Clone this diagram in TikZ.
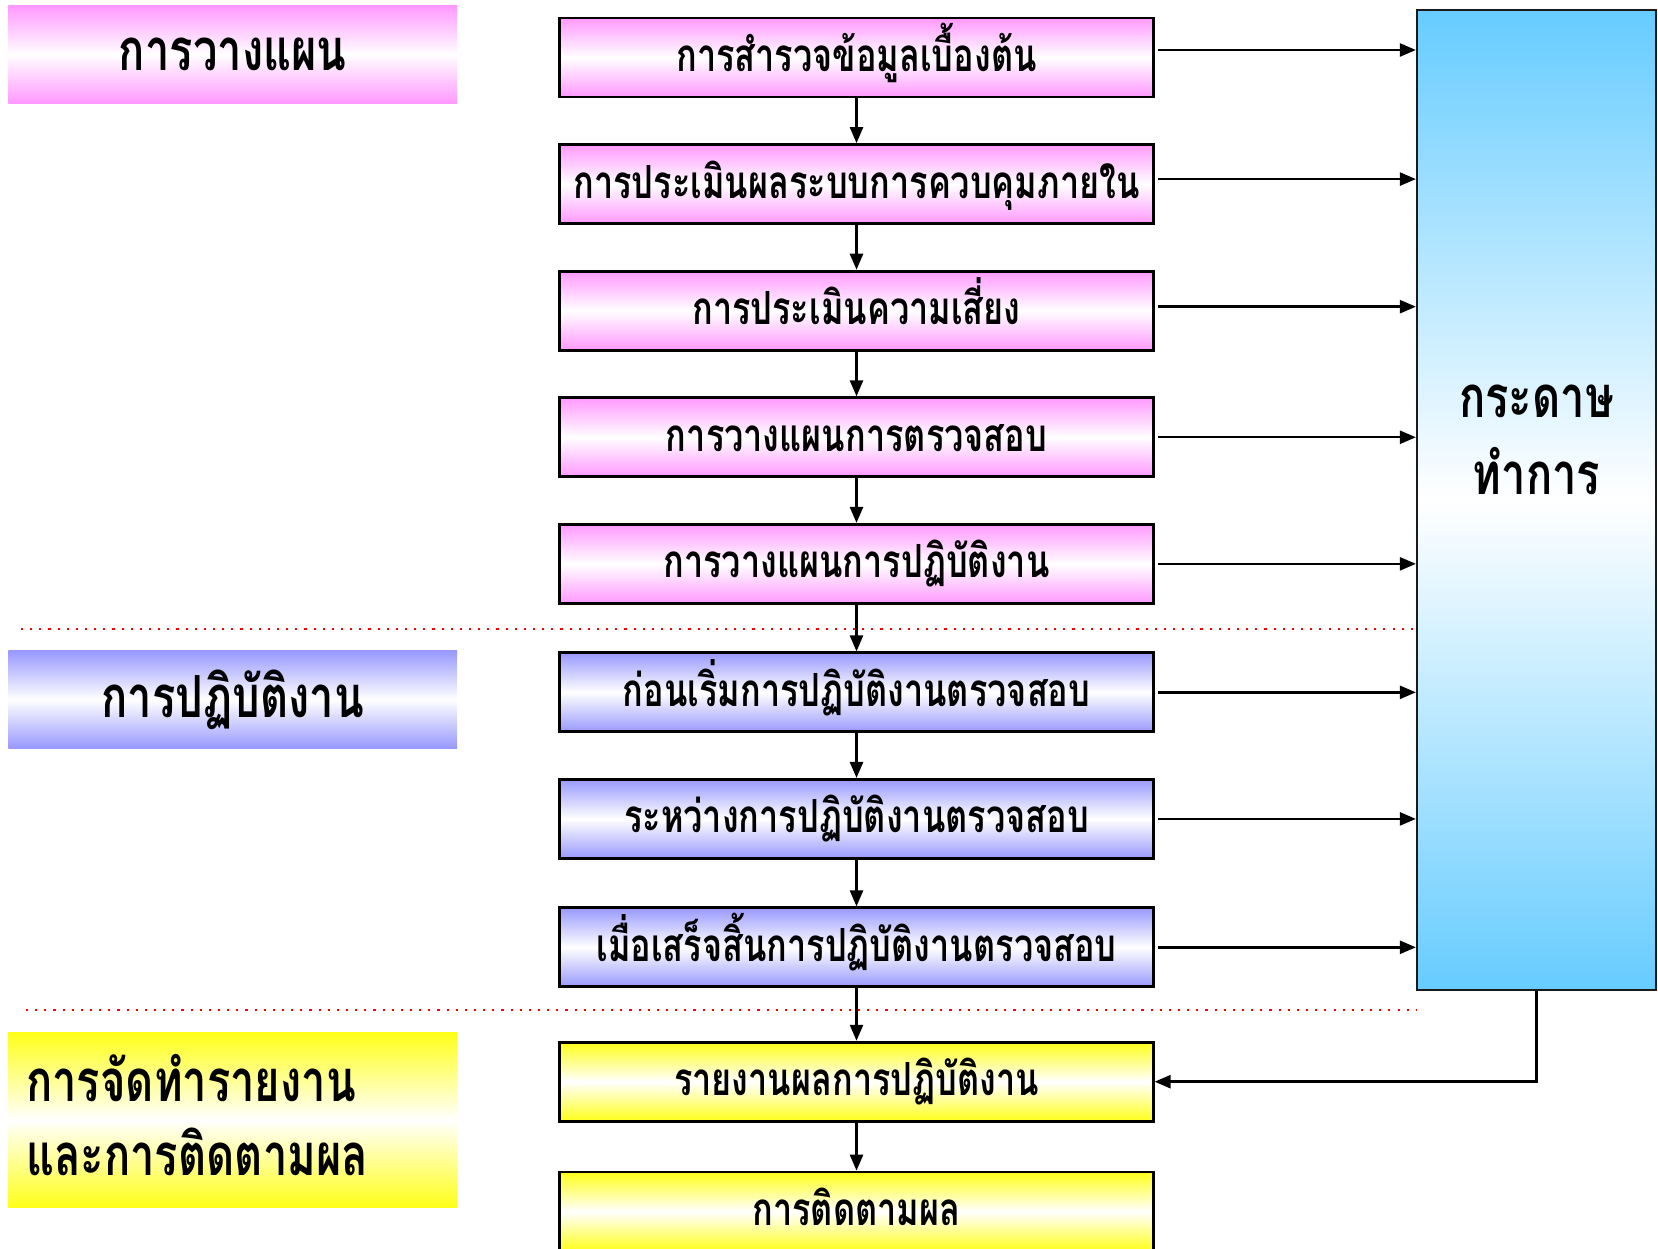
\documentclass[tikz,border=0pt]{standalone}
\usepackage{fontspec}
\newfontfamily\thaifont[Script=Thai,FakeStretch=0.75]{Loma}
\usetikzlibrary{arrows.meta,positioning}
\definecolor{pinkfill}{HTML}{FF99FF}
\definecolor{bluefill}{HTML}{9999FF}
\definecolor{yellowfill}{HTML}{FFFF1A}
\definecolor{skyfill}{HTML}{66CCFF}
\definecolor{frame}{HTML}{1A1A1A}
\tikzset{
  stage/.style={draw=black, line width=0.8pt, minimum width=59.3mm, minimum height=7.9mm, inner sep=0pt, text height=4mm, text depth=1.2mm, font=\thaifont\bfseries\fontsize{13}{15}\selectfont},
  planstep/.style={stage, top color=pinkfill, bottom color=pinkfill, middle color=white},
  workstep/.style={stage, top color=bluefill, bottom color=bluefill, middle color=white},
  reportstep/.style={stage, top color=yellowfill, bottom color=yellowfill, middle color=white},
  phase/.style={minimum width=44.85mm, minimum height=9.7mm, inner sep=0pt, font=\thaifont\bfseries\fontsize{16.5}{21.3}\selectfont},
  arrow/.style={-{Triangle[length=1.6mm, width=1.3mm]}, line width=0.7pt},
  divider/.style={red, dotted, line width=0.6pt}
}
\begin{document}
\begin{tikzpicture}[x=0.01cm, y=-0.01cm, node distance=4.47mm]
\useasboundingbox (0,0) rectangle (1658,1248);
% ช่วงการวางแผน
\node[phase, top color=pinkfill, bottom color=pinkfill, middle color=white] (planphase) at (232.75,54.5) {การวางแผน};
\node[phase, top color=bluefill, bottom color=bluefill, middle color=white] (workphase) at (232.75,699.5) {การปฏิบัติงาน};
\node[phase, minimum height=17.4mm, text width=41.3mm, align=left, top color=yellowfill, bottom color=yellowfill, middle color=white] (reportphase) at (232.75,1120) {การจัดทำรายงาน\\และการติดตามผล\vspace*{1mm}};
% ขั้นตอนหลัก
\node[planstep] (survey) at (856.5,57.5) {การสำรวจข้อมูลเบื้องต้น};
\node[planstep, below=of survey] (control) {การประเมินผลระบบการควบคุมภายใน};
\node[planstep, below=of control] (risk) {การประเมินความเสี่ยง};
\node[planstep, below=of risk] (auditplan) {การวางแผนการตรวจสอบ};
\node[planstep, below=of auditplan] (workplan) {การวางแผนการปฏิบัติงาน};
\node[workstep, below=4.66mm of workplan] (prework) {ก่อนเริ่มการปฏิบัติงานตรวจสอบ};
\node[workstep, below=of prework] (duringwork) {ระหว่างการปฏิบัติงานตรวจสอบ};
\node[workstep, below=4.65mm of duringwork] (postwork) {เมื่อเสร็จสิ้นการปฏิบัติงานตรวจสอบ};
\node[reportstep, below=5.25mm of postwork] (report) {รายงานผลการปฏิบัติงาน};
\node[reportstep, below=4.8mm of report] (followup) {การติดตามผล};
% กระดาษทำการ
\node[draw=frame, line width=0.6pt, minimum width=23.9mm, minimum height=97.9mm, top color=skyfill, bottom color=skyfill, middle color=white] (paper) at (1536.5,500) {};
\node[font=\thaifont\bfseries\fontsize{16.5}{22}\selectfont, align=center, yshift=6mm] (papertext) at (paper.center) {กระดาษ\\ทำการ};
\draw[arrow] (survey) -- (control);
\draw[arrow] (control) -- (risk);
\draw[arrow] (risk) -- (auditplan);
\draw[arrow] (auditplan) -- (workplan);
\draw[arrow] (workplan) -- (prework);
\draw[arrow] (prework) -- (duringwork);
\draw[arrow] (duringwork) -- (postwork);
\draw[arrow] (postwork) -- (report);
\draw[arrow] (report) -- (followup);
% ลูกศรเข้ากระดาษทำการ (สามเส้นแรกอยู่สูงกว่ากึ่งกลางกล่องเล็กน้อย)
\draw[arrow, shorten <=1pt] ([yshift=0.75mm]survey.east) -- ([yshift=0.75mm]survey.east -| paper.west);
\draw[arrow, shorten <=1pt] ([yshift=0.5mm]control.east) -- ([yshift=0.5mm]control.east -| paper.west);
\draw[arrow, shorten <=1pt] ([yshift=0.4mm]risk.east) -- ([yshift=0.4mm]risk.east -| paper.west);
\draw[arrow, shorten <=1pt] (auditplan.east) -- (auditplan.east -| paper.west);
\draw[arrow, shorten <=1pt] (workplan.east) -- (workplan.east -| paper.west);
\draw[arrow, shorten <=1pt] (prework.east) -- (prework.east -| paper.west);
\draw[arrow, shorten <=1pt] (duringwork.east) -- (duringwork.east -| paper.west);
\draw[arrow, shorten <=1pt] (postwork.east) -- (postwork.east -| paper.west);
\draw[arrow] (paper.south) |- (report.east);
% เส้นแบ่งช่วง
\coordinate (cutone) at (21,629);
\coordinate (cuttwo) at (26,1010);
\draw[divider] (cutone) -- (cutone -| paper.west);
\draw[divider] (cuttwo) -- (cuttwo -| paper.west);
\end{tikzpicture}
\end{document}
